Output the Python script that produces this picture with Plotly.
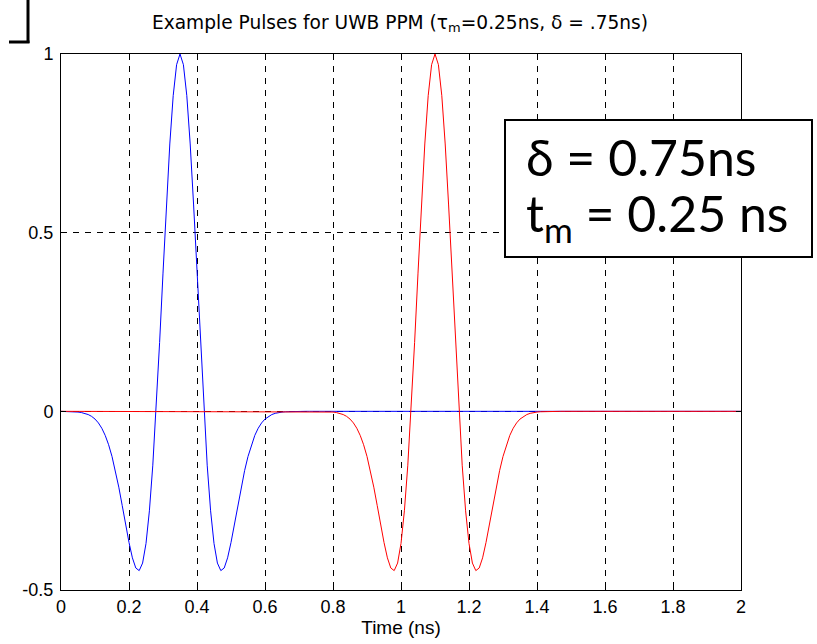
import plotly.graph_objects as go

# Time axis (ns), sampled every 0.01 ns
time_ns = [round(i * 0.01, 2) for i in range(201)]

# Pulse shape (offsets -0.35 .. +0.35 ns around the peak)
pulse_shape = [
    -0.0001, -0.0002, -0.0004, -0.0007, -0.0012, -0.0020, -0.0034, -0.0056, -0.0090, -0.0141,
    -0.0216, -0.0324, -0.0473, -0.0673, -0.0934, -0.1263, -0.1660, -0.2123, -0.2633, -0.3163,
    -0.3670, -0.4100, -0.4385, -0.4457, -0.4246, -0.3698, -0.2784, -0.1507, 0.0090, 0.1923,
    0.3868, 0.5775, 0.7482, 0.8833, 0.9701, 1.0000, 0.9701, 0.8833, 0.7482, 0.5775,
    0.3868, 0.1923, 0.0090, -0.1507, -0.2784, -0.3698, -0.4246, -0.4457, -0.4385, -0.4100,
    -0.3670, -0.3163, -0.2633, -0.2123, -0.1660, -0.1263, -0.0934, -0.0673, -0.0473, -0.0324,
    -0.0216, -0.0141, -0.0090, -0.0056, -0.0034, -0.0020, -0.0012, -0.0007, -0.0004, -0.0002,
    -0.0001,
]

# Blue pulse: peak at 0.35 ns; red pulse: peak at 1.10 ns (delta = 0.75 ns)
blue_pulse = pulse_shape + [0.0] * 130
red_pulse = [0.0] * 75 + pulse_shape + [0.0] * 55

x_ticks = [0, 0.2, 0.4, 0.6, 0.8, 1, 1.2, 1.4, 1.6, 1.8, 2]
x_tick_labels = ["0", "0.2", "0.4", "0.6", "0.8", "1", "1.2", "1.4", "1.6", "1.8", "2"]
y_ticks = [-0.5, 0, 0.5, 1]
y_tick_labels = ["-0.5", "0", "0.5", "1"]

title_text = "Example Pulses for UWB PPM (τ<sub>m</sub>=0.25ns, δ = .75ns)"
x_label = "Time (ns)"
box_line1 = "δ = 0.75ns"
box_line2 = "t<sub>m</sub> = 0.25 ns"

W, H = 817, 644
L, R, T, B = 61, 741, 54, 590   # plot area in screen pixels


def px(xp):
    return (xp - L) / (R - L)


def py(yp):
    return (B - yp) / (B - T)


fig = go.Figure()
fig.add_trace(go.Scatter(x=time_ns, y=blue_pulse, mode="lines",
                         line=dict(color="rgb(0,0,255)", width=1), showlegend=False))
fig.add_trace(go.Scatter(x=time_ns, y=red_pulse, mode="lines",
                         line=dict(color="rgb(255,0,0)", width=1), showlegend=False))

tick_font = dict(family="Liberation Sans, Arial, sans-serif", size=18, color="black")
axis_common = dict(
    showline=True, linecolor="black", linewidth=1, mirror="ticks",
    ticks="inside", ticklen=5, tickcolor="black", tickwidth=1,
    showgrid=True, gridcolor="black", gridwidth=1, griddash="6px,6px",
    zeroline=False, tickfont=tick_font,
)

fig.update_xaxes(range=[0, 2], tickvals=x_ticks, ticktext=x_tick_labels,
                 title=dict(text=x_label, font=dict(family="Liberation Sans, Arial, sans-serif",
                                                    size=19, color="black"), standoff=2),
                 **axis_common)
fig.update_yaxes(range=[-0.5, 1], tickvals=y_ticks, ticktext=y_tick_labels,
                 ticklabelstandoff=3, **axis_common)

shapes = [
    # text box border
    dict(type="rect", xref="paper", yref="paper",
         x0=px(505), x1=px(812), y0=py(257), y1=py(120),
         line=dict(color="black", width=2), fillcolor="white", layer="above"),
    # corner mark top-left
    dict(type="line", xref="paper", yref="paper", x0=px(28), x1=px(28), y0=py(0), y1=py(43),
         line=dict(color="black", width=3)),
    dict(type="line", xref="paper", yref="paper", x0=px(9), x1=px(29.5), y0=py(42), y1=py(42),
         line=dict(color="black", width=3)),
]

box_font = dict(family="Lato, Open Sans, sans-serif", size=50, color="black")
annotations = [
    dict(text=box_line1, xref="paper", yref="paper", x=px(524), y=py(157),
         xanchor="left", yanchor="middle", showarrow=False, font=box_font),
    dict(text=box_line2, xref="paper", yref="paper", x=px(524), y=py(216),
         xanchor="left", yanchor="middle", showarrow=False, font=box_font),
]

fig.update_layout(
    width=W, height=H,
    margin=dict(l=L, r=W - R, t=T, b=H - B, pad=0),
    paper_bgcolor="white", plot_bgcolor="white",
    title=dict(text=title_text, xref="paper", x=px(400), xanchor="center",
               yref="container", y=1 - 22 / H, yanchor="middle",
               font=dict(family="DejaVu Sans, sans-serif", size=18.6, color="black")),
    shapes=shapes, annotations=annotations,
)

fig.write_html("out.html", config={"displayModeBar": False},
               post_script="document.body.style.margin='0px';")
